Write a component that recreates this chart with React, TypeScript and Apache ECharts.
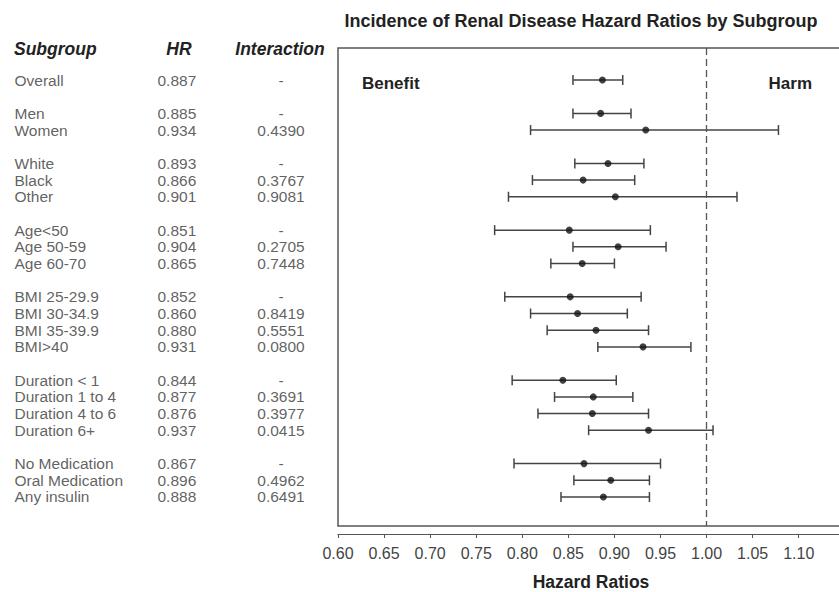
import React, { useEffect, useRef } from "react";
import * as echarts from "echarts";

const subgroups = [
  "Overall", "Men", "Women", "White", "Black", "Other",
  "Age<50", "Age 50-59", "Age 60-70",
  "BMI 25-29.9", "BMI 30-34.9", "BMI 35-39.9", "BMI>40",
  "Duration < 1", "Duration 1 to 4", "Duration 4 to 6", "Duration 6+",
  "No Medication", "Oral Medication", "Any insulin",
];
const rowPos = [0, 2, 3, 5, 6, 7, 9, 10, 11, 13, 14, 15, 16, 18, 19, 20, 21, 23, 24, 25];
const hr = [0.887, 0.885, 0.934, 0.893, 0.866, 0.901, 0.851, 0.904, 0.865, 0.852, 0.860, 0.880, 0.931, 0.844, 0.877, 0.876, 0.937, 0.867, 0.896, 0.888];
const lower = [0.855, 0.855, 0.809, 0.857, 0.811, 0.785, 0.770, 0.855, 0.831, 0.781, 0.809, 0.827, 0.882, 0.789, 0.835, 0.817, 0.872, 0.791, 0.856, 0.842];
const upper = [0.909, 0.918, 1.078, 0.932, 0.922, 1.033, 0.939, 0.956, 0.900, 0.929, 0.914, 0.937, 0.983, 0.902, 0.920, 0.937, 1.007, 0.950, 0.938, 0.938];
const interaction = ["-", "-", "0.4390", "-", "0.3767", "0.9081", "-", "0.2705", "0.7448", "-", "0.8419", "0.5551", "0.0800", "-", "0.3691", "0.3977", "0.0415", "-", "0.4962", "0.6491"];

const FONT = '"Liberation Sans", Arial, Helvetica, sans-serif';
const COL_SUB = 14;
const COL_HR = 157;
const COL_INT = 281;
const Y_MIN = -1.92;
const Y_MAX = 26.74;

function txt(x: number, y: number, text: string, font: string, align: string, fill = "#222") {
  return {
    type: "text",
    x,
    y,
    style: {
      text,
      font,
      fill,
      align,
      verticalAlign: "middle",
      textAlign: align,
      textVerticalAlign: "middle",
    },
  };
}

export default function App() {
  const ref = useRef<HTMLDivElement>(null);
  useEffect(() => {
    if (!ref.current) return;
    document.body.style.margin = "0";
    const chart = echarts.init(ref.current, null, { renderer: "svg" });
    const tableSeries = (x: number, fmt: (i: number) => string, position: any) => ({
      type: "scatter",
      xAxisIndex: 1,
      yAxisIndex: 1,
      data: rowPos.map((p) => [x, p]),
      symbol: "circle",
      symbolSize: 1,
      silent: true,
      itemStyle: { color: "rgba(0,0,0,0)" },
      label: {
        show: true,
        position,
        distance: 0,
        formatter: (p: any) => fmt(p.dataIndex),
        fontFamily: FONT,
        fontSize: 15.5,
        color: "#383838",
      },
    });
    chart.setOption({
      animation: false,
      grid: [
        {
          left: 338, width: 516, top: 48, bottom: 66,
          containLabel: false, outerBoundsMode: "none",
          show: true, borderColor: "#555", borderWidth: 1.5, backgroundColor: "transparent",
        },
        { left: 0, width: 338, top: 48, bottom: 66, containLabel: false, outerBoundsMode: "none", show: false },
      ],
      xAxis: [
        {
          type: "value",
          gridIndex: 0,
          min: 0.6,
          max: 1.16,
          interval: 0.05,
          offset: 8,
          axisLine: { show: true, onZero: false, lineStyle: { color: "#555", width: 1.2 } },
          axisTick: { show: true, length: 4, lineStyle: { color: "#555" } },
          splitLine: { show: false },
          axisLabel: {
            margin: 11,
            fontFamily: FONT,
            fontSize: 16,
            color: "#444",
            formatter: (v: number) => (v > 1.12 ? "" : v.toFixed(2)),
          },
        },
        { type: "value", gridIndex: 1, min: 0, max: 338, show: false },
      ],
      yAxis: [
        { type: "value", gridIndex: 0, inverse: true, min: Y_MIN, max: Y_MAX, show: false },
        { type: "value", gridIndex: 1, inverse: true, min: Y_MIN, max: Y_MAX, show: false },
      ],
      graphic: [
        txt(581, 21, "Incidence of Renal Disease Hazard Ratios by Subgroup", `bold 18px ${FONT}`, "center"),
        txt(COL_SUB, 49, "Subgroup", `italic bold 17.5px ${FONT}`, "left"),
        txt(179, 49, "HR", `italic bold 17.5px ${FONT}`, "center"),
        txt(280, 49, "Interaction", `italic bold 17.5px ${FONT}`, "center"),
        txt(362, 83, "Benefit", `bold 17px ${FONT}`, "left"),
        txt(812, 83, "Harm", `bold 17px ${FONT}`, "right"),
        txt(591, 582, "Hazard Ratios", `bold 17.5px ${FONT}`, "center"),
      ],
      series: [
        {
          type: "custom",
          xAxisIndex: 0,
          yAxisIndex: 0,
          data: lower.map((l, i) => [l, upper[i], rowPos[i]]),
          encode: { x: [0, 1], y: 2 },
          renderItem: (params: any, api: any) => {
            const lo = api.coord([api.value(0), api.value(2)]);
            const hi = api.coord([api.value(1), api.value(2)]);
            const h = 5;
            const style = { stroke: "#444", lineWidth: 1.5 };
            return {
              type: "group",
              children: [
                { type: "line", shape: { x1: lo[0], y1: lo[1], x2: hi[0], y2: hi[1] }, style },
                { type: "line", shape: { x1: lo[0], y1: lo[1] - h, x2: lo[0], y2: lo[1] + h }, style },
                { type: "line", shape: { x1: hi[0], y1: hi[1] - h, x2: hi[0], y2: hi[1] + h }, style },
              ],
            };
          },
          markLine: {
            silent: true,
            symbol: "none",
            label: { show: false },
            lineStyle: { color: "#555", width: 1.3, type: [7, 4] },
            data: [{ xAxis: 1 }],
          },
          z: 2,
        },
        {
          type: "scatter",
          xAxisIndex: 0,
          yAxisIndex: 0,
          data: hr.map((v, i) => [v, rowPos[i]]),
          symbol: "circle",
          symbolSize: 7,
          itemStyle: { color: "#111" },
          z: 3,
        },
        tableSeries(COL_SUB, (i) => subgroups[i], "right"),
        tableSeries(COL_HR, (i) => hr[i].toFixed(3), "right"),
        tableSeries(COL_INT, (i) => interaction[i], "inside"),
      ],
    });
    return () => chart.dispose();
  }, []);
  return <div ref={ref} style={{ position: "absolute", left: 0, top: 0, width: 839, height: 592 }} />;
}
